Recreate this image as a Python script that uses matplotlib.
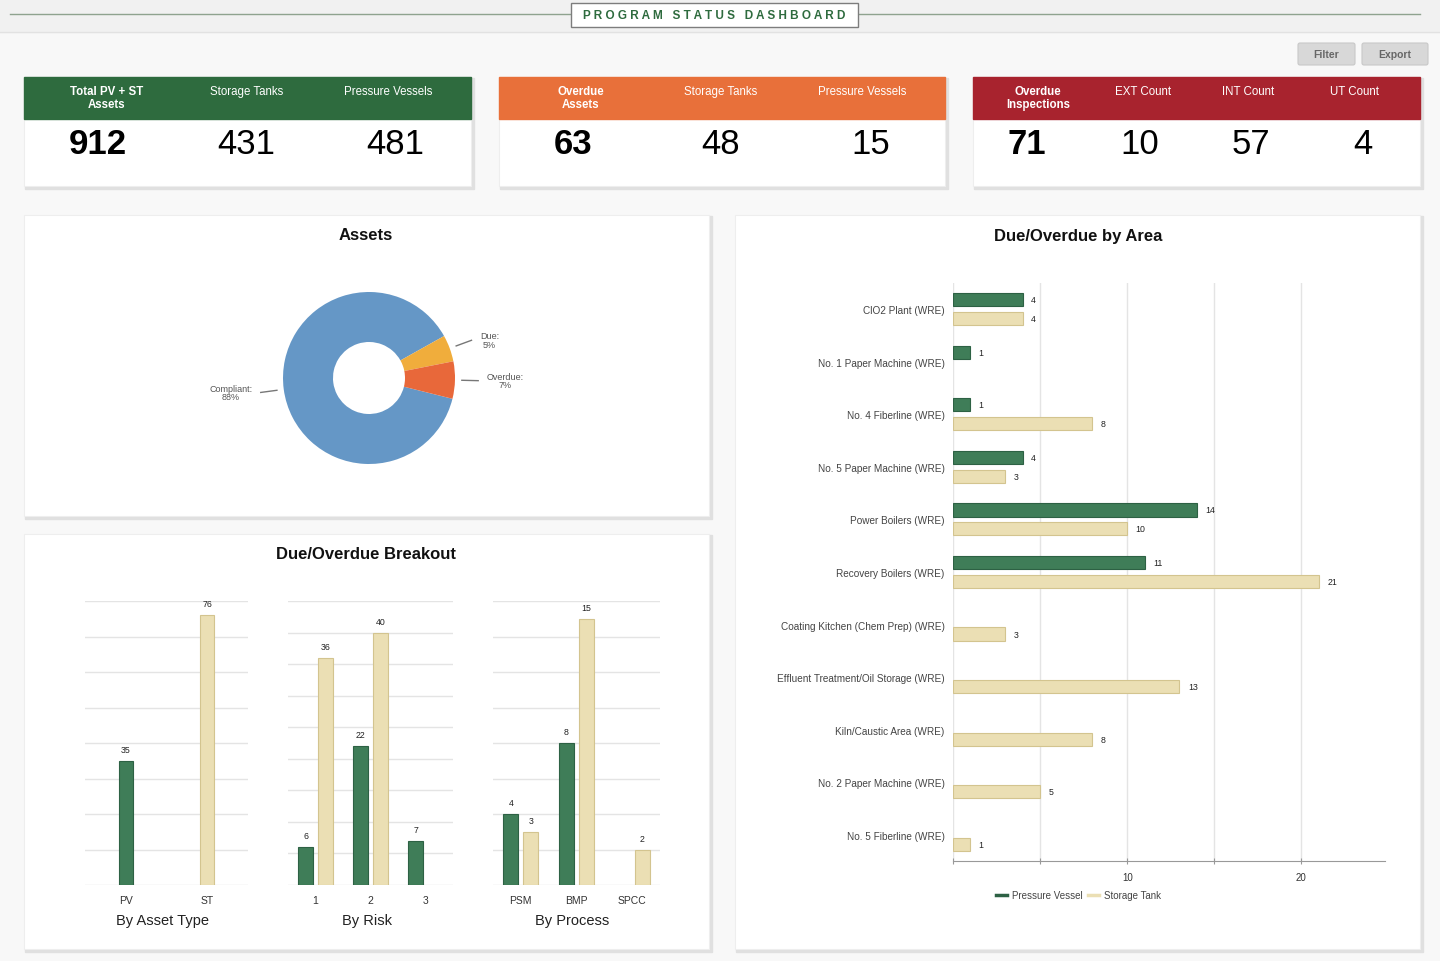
import numpy as np
import matplotlib
matplotlib.use("Agg")
import matplotlib.pyplot as plt
from matplotlib.patches import Rectangle, FancyBboxPatch
from matplotlib.lines import Line2D

plt.rcParams['font.family'] = ['Liberation Sans', 'DejaVu Sans']

# ---- data ----
kpi_headers = [
    ["Total PV + ST\nAssets", "Storage Tanks", "Pressure Vessels"],
    ["Overdue\nAssets", "Storage Tanks", "Pressure Vessels"],
    ["Overdue\nInspections", "EXT Count", "INT Count", "UT Count"],
]
kpi_values = [
    ["912", "431", "481"],
    ["63", "48", "15"],
    ["71", "10", "57", "4"],
]

pie_labels = ["Compliant", "Due", "Overdue"]
pie_values = [88, 5, 7]

asset_types = ["PV", "ST"]
asset_counts = [35, 76]

risk_levels = ["1", "2", "3"]
risk_pv = [6, 22, 7]
risk_st = [36, 40, None]

processes = ["PSM", "BMP", "SPCC"]
process_pv = [4, 8, None]
process_st = [3, 15, 2]

areas = ["ClO2 Plant (WRE)", "No. 1 Paper Machine (WRE)", "No. 4 Fiberline (WRE)",
         "No. 5 Paper Machine (WRE)", "Power Boilers (WRE)", "Recovery Boilers (WRE)",
         "Coating Kitchen (Chem Prep) (WRE)", "Effluent Treatment/Oil Storage (WRE)",
         "Kiln/Caustic Area (WRE)", "No. 2 Paper Machine (WRE)", "No. 5 Fiberline (WRE)"]
area_pv = [4, 1, 1, 4, 14, 11, None, None, None, None, None]
area_st = [4, None, 8, 3, 10, 21, 3, 13, 8, 5, 1]

# ---- styles ----
W, H = 1440, 962
GREEN = "#3f7d58"
GREEN_EDGE = "#2d6144"
BEIGE = "#ebdfb4"
BEIGE_EDGE = "#d3c48f"
HEAD_COLORS = ["#2e6b3e", "#e8703a", "#a8232e"]
PIE_COLORS = ["#6597c6", "#f0ad3c", "#e8683a"]
GRID = "#e4e4e4"

fig = plt.figure(figsize=(W / 100, H / 100), dpi=100)
fig.patch.set_facecolor("#f8f8f8")


def box(x0, y0, x1, y1):
    return [x0 / W, 1 - y1 / H, (x1 - x0) / W, (y1 - y0) / H]


bg = fig.add_axes([0, 0, 1, 1])
bg.set_xlim(0, W)
bg.set_ylim(H, 0)
bg.axis("off")

# header band
bg.add_patch(Rectangle((0, 0), W, 33, color="#f1f1f1", zorder=0))
bg.plot([0, W], [33, 33], color="#e2e2e2", lw=1)
bg.plot([10, 1420], [15, 15], color="#8fa38f", lw=1)
bg.add_patch(Rectangle((571, 4), 287, 24, facecolor="white", edgecolor="#7d7d7d", lw=1, zorder=2))
bg.text(714, 16, "P R O G R A M   S T A T U S   D A S H B O A R D", ha="center", va="center",
        fontsize=8.5, fontweight="bold", color="#2e6b3e", zorder=3)

# buttons
for bx0, bx1, lab in [(1298, 1355, "Filter"), (1362, 1428, "Export")]:
    bg.add_patch(FancyBboxPatch((bx0, 44), bx1 - bx0, 22, boxstyle="round,pad=0,rounding_size=2",
                                facecolor="#d8d8d8", edgecolor="#c8c8c8", lw=0.8))
    bg.text((bx0 + bx1) / 2, 55, lab, ha="center", va="center", fontsize=7.5,
            fontweight="bold", color="#666666")


def card(x0, y0, x1, y1):
    bg.add_patch(Rectangle((x0 + 1, y0 + 1), x1 - x0 + 1.5, y1 - y0 + 1.5, color="#e0e0e0", zorder=1))
    bg.add_patch(Rectangle((x0, y0), x1 - x0, y1 - y0, facecolor="white", edgecolor="#eeeeee",
                           lw=0.8, zorder=1.5))


# KPI cards
card_boxes = [(24, 78, 471, 187), (499, 78, 945, 187), (973, 78, 1420, 187)]
head_x = [[107, 247, 388], [581, 721, 862], [1038, 1143, 1248, 1354]]
val_x = [[98, 246, 395], [573, 721, 871], [1027, 1140, 1251, 1363]]
for i, (x0, y0, x1, y1) in enumerate(card_boxes):
    card(x0, y0, x1, y1)
    bg.add_patch(Rectangle((x0, y0), x1 - x0, 42, color=HEAD_COLORS[i], zorder=2))
    for j, (t, v) in enumerate(zip(kpi_headers[i], kpi_values[i])):
        bold = j == 0
        bg.text(head_x[i][j], 98.5 if bold else 92, t, ha="center", va="center", fontsize=8.3,
                color="white", fontweight="bold" if bold else "normal", linespacing=1.05, zorder=3)
        bg.text(val_x[i][j], 144.5, v, ha="center", va="center", fontsize=25,
                color="black", fontweight="bold" if bold else "normal", zorder=3)

# panels
card(24, 216, 709, 517)
card(24, 535, 709, 950)
card(735, 216, 1420, 950)
bg.text(366, 236, "Assets", ha="center", va="center", fontsize=12, fontweight="bold", color="#111111", zorder=3)
bg.text(366, 555, "Due/Overdue Breakout", ha="center", va="center", fontsize=12, fontweight="bold",
        color="#111111", zorder=3)
bg.text(1078, 236, "Due/Overdue by Area", ha="center", va="center", fontsize=12, fontweight="bold",
        color="#111111", zorder=3)

# ---- donut ----
R = 86
axp = fig.add_axes(box(369 - 1.25 * R, 379 - 1.25 * R, 369 + 1.25 * R, 379 + 1.25 * R))
wedges, _ = axp.pie(pie_values, colors=PIE_COLORS, startangle=-14, counterclock=False,
                    wedgeprops=dict(width=(R - 36) / R, edgecolor="none"))
axp.set_xlim(-1.25, 1.25)
axp.set_ylim(-1.25, 1.25)
axp.set_aspect("equal")
axp.axis("off")
for w, lab, v in zip(wedges, pie_labels, pie_values):
    a = np.deg2rad((w.theta1 + w.theta2) / 2)
    c, s = np.cos(a), np.sin(a)
    axp.plot([1.08 * c, 1.27 * c], [1.08 * s, 1.27 * s], color="#777777", lw=1, clip_on=False)
    side = 1 if c > 0 else -1
    axp.annotate(f"{lab}:\n{v}%", (1.27 * c, 1.27 * s), xytext=(6 * side, 0),
                 textcoords="offset points", ha="left" if side > 0 else "right", va="center",
                 multialignment="center", fontsize=6.5, color="#555555", linespacing=0.95,
                 annotation_clip=False)


# ---- breakout charts ----
def breakout(px0, px1, ymax, step, cats, title, label_x):
    ax = fig.add_axes(box(px0, 602, px1, 886))
    ax.set_xlim(-0.5, len(cats) - 0.5)
    ax.set_ylim(0, ymax)
    ax.set_yticks(np.arange(0, ymax + 0.1, step))
    ax.yaxis.grid(True, color=GRID, lw=1)
    ax.set_axisbelow(True)
    ax.tick_params(axis="y", left=False, labelleft=False)
    ax.tick_params(axis="x", length=0, labelsize=7.5, labelcolor="#333333", pad=7)
    ax.set_xticks(range(len(cats)))
    ax.set_xticklabels(cats)
    for s in ax.spines.values():
        s.set_visible(False)
    ax.patch.set_alpha(0)
    ax.set_xlabel(title, fontsize=10.5, color="#222222", va="center")
    ax.xaxis.set_label_coords((label_x - px0) / (px1 - px0), (886 - 921) / 284)
    return ax


def value_labels(ax, xs, vals):
    for x, v in zip(xs, vals):
        if v is not None:
            ax.annotate(str(v), (x, v), xytext=(0, 5), textcoords="offset points",
                        ha="center", va="bottom", fontsize=6.3, color="#222222")


ax1 = breakout(85, 248, 80, 10, asset_types, "By Asset Type", 162)
ax1.bar(range(len(asset_types)), asset_counts, width=0.17, color=[GREEN, BEIGE],
        edgecolor=[GREEN_EDGE, BEIGE_EDGE], lw=0.8)
value_labels(ax1, range(len(asset_types)), asset_counts)


def grouped(ax, pv, st):
    x = np.arange(len(pv))
    for off, vals, c, e in [(-0.18, pv, GREEN, GREEN_EDGE), (0.18, st, BEIGE, BEIGE_EDGE)]:
        xs = [xi + off for xi, v in zip(x, vals) if v is not None]
        vs = [v for v in vals if v is not None]
        ax.bar(xs, vs, width=0.27, color=c, edgecolor=e, lw=0.8)
        value_labels(ax, xs, vs)


ax2 = breakout(288, 453, 45, 5, risk_levels, "By Risk", 367)
grouped(ax2, risk_pv, risk_st)
ax3 = breakout(493, 660, 16, 2, processes, "By Process", 572)
grouped(ax3, process_pv, process_st)

# ---- area chart ----
axa = fig.add_axes(box(953, 284, 1385, 862))
n = len(areas)
y = np.arange(n)
axa.set_ylim(n - 0.5, -0.5)
axa.set_xlim(0, 24.8)
for off, vals, c, e in [(-0.18, area_pv, GREEN, GREEN_EDGE), (0.18, area_st, BEIGE, BEIGE_EDGE)]:
    ys = [yi + off for yi, v in zip(y, vals) if v is not None]
    vs = [v for v in vals if v is not None]
    axa.barh(ys, vs, height=0.25, color=c, edgecolor=e, lw=0.8)
    for yy, v in zip(ys, vs):
        axa.annotate(str(v), (v, yy), xytext=(6, 0), textcoords="offset points",
                     ha="left", va="center", fontsize=6.3, color="#222222")
axa.set_yticks(y)
axa.set_yticklabels(areas, fontsize=7.2, color="#444444")
axa.tick_params(axis="y", length=0, pad=6)
axa.set_xticks([0, 5, 10, 15, 20])
axa.set_xticklabels(["", "", "10", "", "20"], fontsize=7, color="#333333")
axa.tick_params(axis="x", length=4, color="#999999", direction="inout", pad=6)
axa.xaxis.grid(True, color=GRID, lw=1)
axa.set_axisbelow(True)
for s in ["top", "right", "left"]:
    axa.spines[s].set_visible(False)
axa.spines["bottom"].set_color("#999999")
axa.patch.set_alpha(0)
handles = [Line2D([], [], color=GREEN_EDGE, lw=2.5), Line2D([], [], color=BEIGE, lw=2.5)]
axa.legend(handles, ["Pressure Vessel", "Storage Tank"], loc="center left",
           bbox_to_anchor=(0.08, -0.059), ncol=2, frameon=False, fontsize=7, handlelength=1.1,
           handletextpad=0.5, columnspacing=0.6, labelcolor="#444444")

fig.savefig("out.png", dpi=100, facecolor=fig.get_facecolor())
